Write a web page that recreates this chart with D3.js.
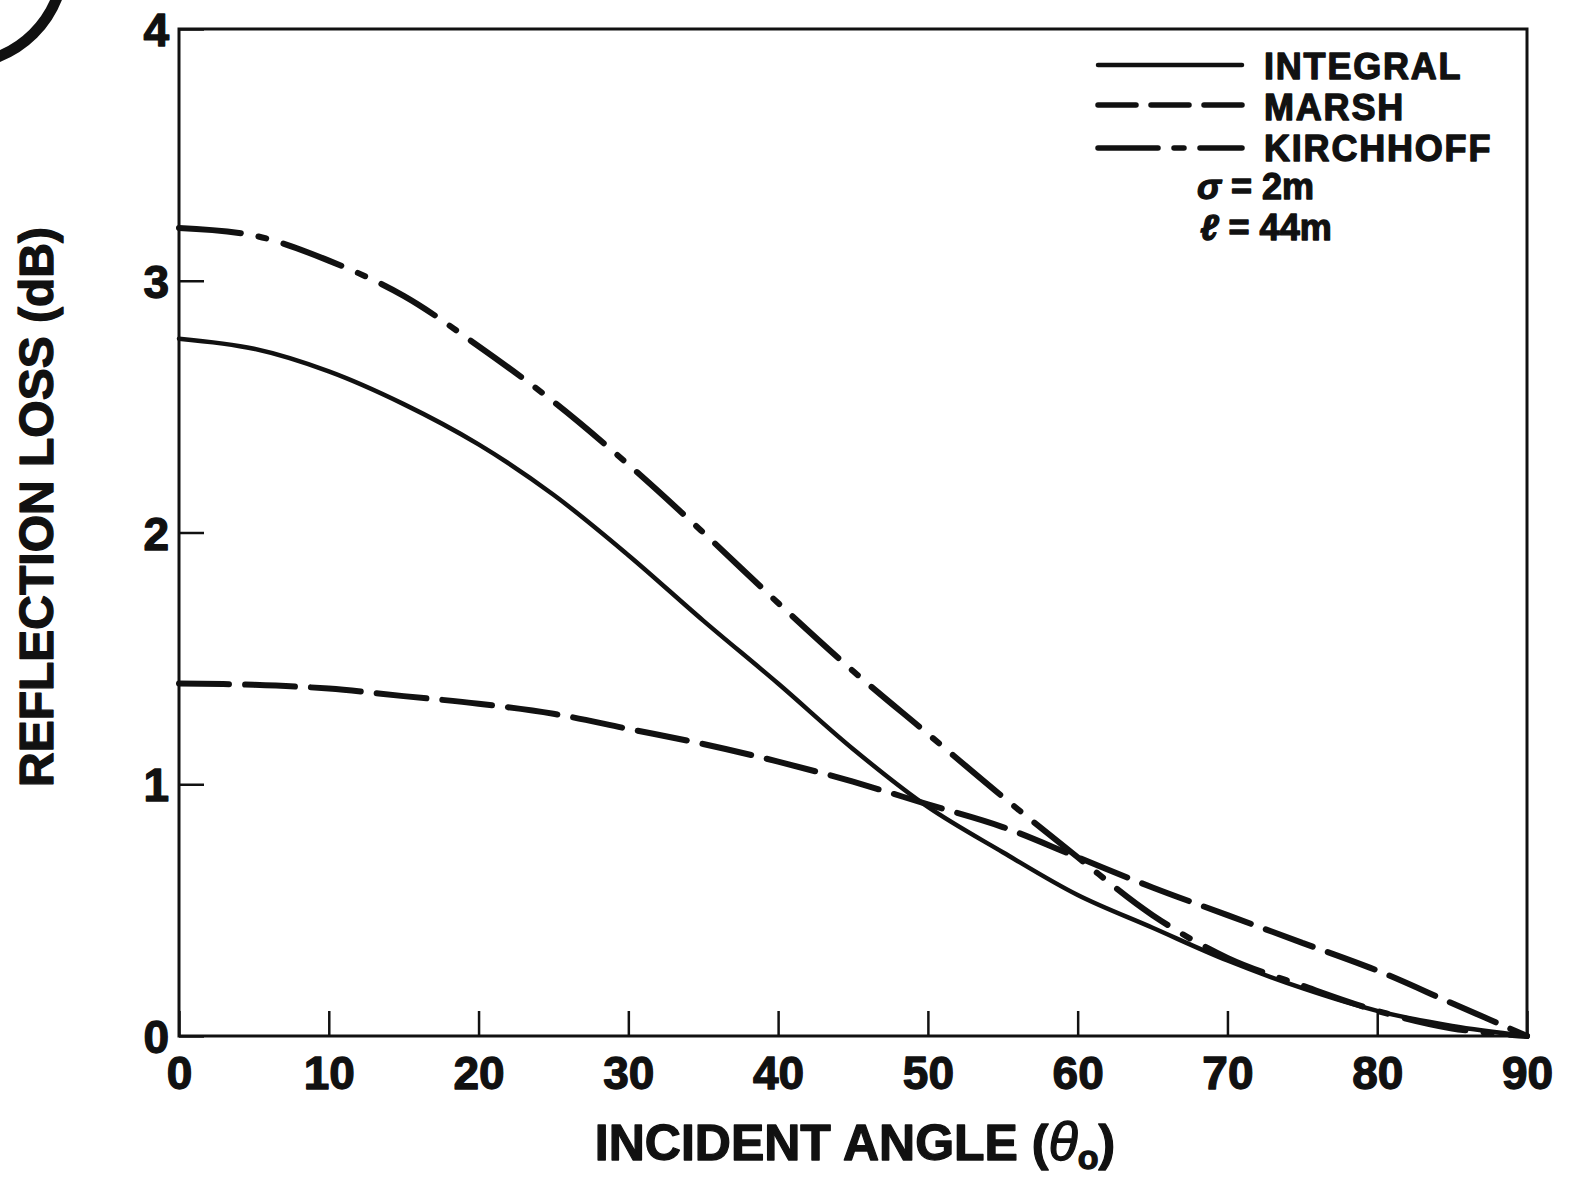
<!DOCTYPE html>
<html>
<head>
<meta charset="utf-8">
<script src="https://cdn.jsdelivr.net/npm/d3@7"></script>
<style>
  html, body { margin: 0; padding: 0; background: #fff; }
  svg { display: block; }
  text { font-family: "Liberation Sans", Arial, Helvetica, sans-serif; font-weight: bold; fill: #111; stroke: #111; stroke-width: 1.3px; stroke-linejoin: round; }
</style>
</head>
<body>
<svg id="chart" width="1569" height="1179"></svg>
<script>
// Incident angle (degrees) at which each curve is sampled
const angles = [0, 5, 10, 15, 20, 25, 30, 35, 40, 45, 50, 55, 60, 65, 70, 75, 80, 85, 90];

// Reflection loss (dB) for each model
const integralLoss   = [2.77, 2.73, 2.64, 2.51, 2.35, 2.15, 1.91, 1.65, 1.40, 1.14, 0.91, 0.73, 0.56, 0.43, 0.30, 0.19, 0.10, 0.04, 0.00];
const marshLoss      = [1.40, 1.395, 1.38, 1.35, 1.32, 1.28, 1.22, 1.16, 1.09, 1.01, 0.92, 0.83, 0.71, 0.59, 0.48, 0.37, 0.26, 0.13, 0.00];
const kirchhoffLoss  = [3.21, 3.18, 3.08, 2.94, 2.74, 2.52, 2.27, 2.00, 1.72, 1.45, 1.20, 0.95, 0.71, 0.48, 0.31, 0.20, 0.10, 0.03, 0.00];

const seriesNames = ["INTEGRAL", "MARSH", "KIRCHHOFF"];
const xTicks = [0, 10, 20, 30, 40, 50, 60, 70, 80, 90];
const yTicks = [0, 1, 2, 3, 4];
const paramLines = ["\u03C3 = 2m", "\u2113 = 44m"];

const svg = d3.select("#chart");
const plotLeft = 179, plotRight = 1527, plotTop = 29, plotBottom = 1036;

const x = d3.scaleLinear().domain([0, 90]).range([plotLeft, plotRight]);
const y = d3.scaleLinear().domain([0, 4]).range([plotBottom, plotTop]);

// stroke styles per series
const styles = {
  INTEGRAL:  { width: 4.5, dash: null },
  MARSH:     { width: 6,   dash: "50 16" },
  KIRCHHOFF: { width: 6,   dash: "62 18 8 18" }
};

// Decorative circled mark in the upper-left corner
const arcPath = d3.path();
arcPath.arc(-40, -40, 104, 1.25, 0.33, true);
svg.append("path")
  .attr("d", arcPath.toString())
  .attr("fill", "none")
  .attr("stroke", "#111")
  .attr("stroke-width", 11)
  .attr("stroke-linecap", "round");

// Axes with inward ticks
const xAxis = d3.axisBottom(x).tickValues(xTicks).tickSizeInner(-25).tickSizeOuter(0).tickFormat(d3.format("d"));
const yAxis = d3.axisLeft(y).tickValues(yTicks).tickSizeInner(-25).tickSizeOuter(0).tickFormat(d3.format("d"));

const gx = svg.append("g").attr("transform", `translate(0,${plotBottom})`).call(xAxis);
const gy = svg.append("g").attr("transform", `translate(${plotLeft},0)`).call(yAxis);

[gx, gy].forEach(g => {
  g.select(".domain").remove();
  g.selectAll(".tick line").attr("stroke", "#111").attr("stroke-width", 2.5);
  g.selectAll(".tick text")
    .style("font-family", "'Liberation Sans', Arial, sans-serif")
    .style("font-weight", "bold")
    .style("font-size", "46px")
    .attr("fill", "#111");
});
gx.selectAll(".tick text").attr("dy", "0").attr("y", 1089 - plotBottom);
gy.selectAll(".tick text").attr("dy", "0.36em").attr("x", -10);

// Plot frame
svg.append("rect")
  .attr("x", plotLeft).attr("y", plotTop)
  .attr("width", plotRight - plotLeft).attr("height", plotBottom - plotTop)
  .attr("fill", "none").attr("stroke", "#111").attr("stroke-width", 3);

// Curves
const line = d3.line()
  .x(d => x(d[0]))
  .y(d => y(d[1]))
  .curve(d3.curveCatmullRom.alpha(0.5));

const seriesData = {
  INTEGRAL: angles.map((a, i) => [a, integralLoss[i]]),
  MARSH: angles.map((a, i) => [a, marshLoss[i]]),
  KIRCHHOFF: angles.map((a, i) => [a, kirchhoffLoss[i]])
};

seriesNames.forEach(name => {
  const st = styles[name];
  svg.append("path")
    .datum(seriesData[name])
    .attr("d", line)
    .attr("fill", "none")
    .attr("stroke", "#111")
    .attr("stroke-width", st.width)
    .attr("stroke-linecap", "round")
    .attr("stroke-linejoin", "round")
    .attr("stroke-dasharray", st.dash);
});

// Legend
const legend = svg.append("g");
const legendRows = [
  { name: "INTEGRAL", ly: 65, ty: 79, dash: null },
  { name: "MARSH", ly: 105, ty: 120, dash: "38 15" },
  { name: "KIRCHHOFF", ly: 148, ty: 161, dash: "60 16 10 16" }
];
legendRows.forEach(r => {
  legend.append("line")
    .attr("x1", 1098).attr("x2", 1242)
    .attr("y1", r.ly).attr("y2", r.ly)
    .attr("stroke", "#111")
    .attr("stroke-width", r.dash ? 5.5 : 4.5)
    .attr("stroke-linecap", "round")
    .attr("stroke-dasharray", r.dash);
  legend.append("text")
    .attr("x", 1264).attr("y", r.ty)
    .style("font-size", "36px")
    .style("letter-spacing", "1.8px")
    .text(r.name);
});

// Surface parameters
const paramX = [1197, 1200];
const paramY = [199, 240];
paramLines.forEach((t, i) => {
  const parts = t.split(" = ");
  const txt = legend.append("text")
    .attr("x", paramX[i]).attr("y", paramY[i])
    .style("font-size", "36px");
  txt.append("tspan").style("font-style", "italic").text(parts[0]);
  txt.append("tspan").text(" = " + parts[1]);
});

// Axis titles
const xt = svg.append("text")
  .attr("x", 855).attr("y", 1160)
  .attr("text-anchor", "middle")
  .style("font-size", "50px");
xt.append("tspan").text("INCIDENT ANGLE (");
xt.append("tspan").style("font-style", "italic").style("font-weight", "normal").style("font-size", "54px").text("\u03B8");
xt.append("tspan").attr("dy", 9).style("font-size", "34px").text("o");
xt.append("tspan").attr("dy", -9).text(")");

svg.append("text")
  .attr("transform", "translate(53,507) rotate(-90)")
  .attr("text-anchor", "middle")
  .style("font-size", "48px")
  .text("REFLECTION LOSS (dB)");
</script>
</body>
</html>
